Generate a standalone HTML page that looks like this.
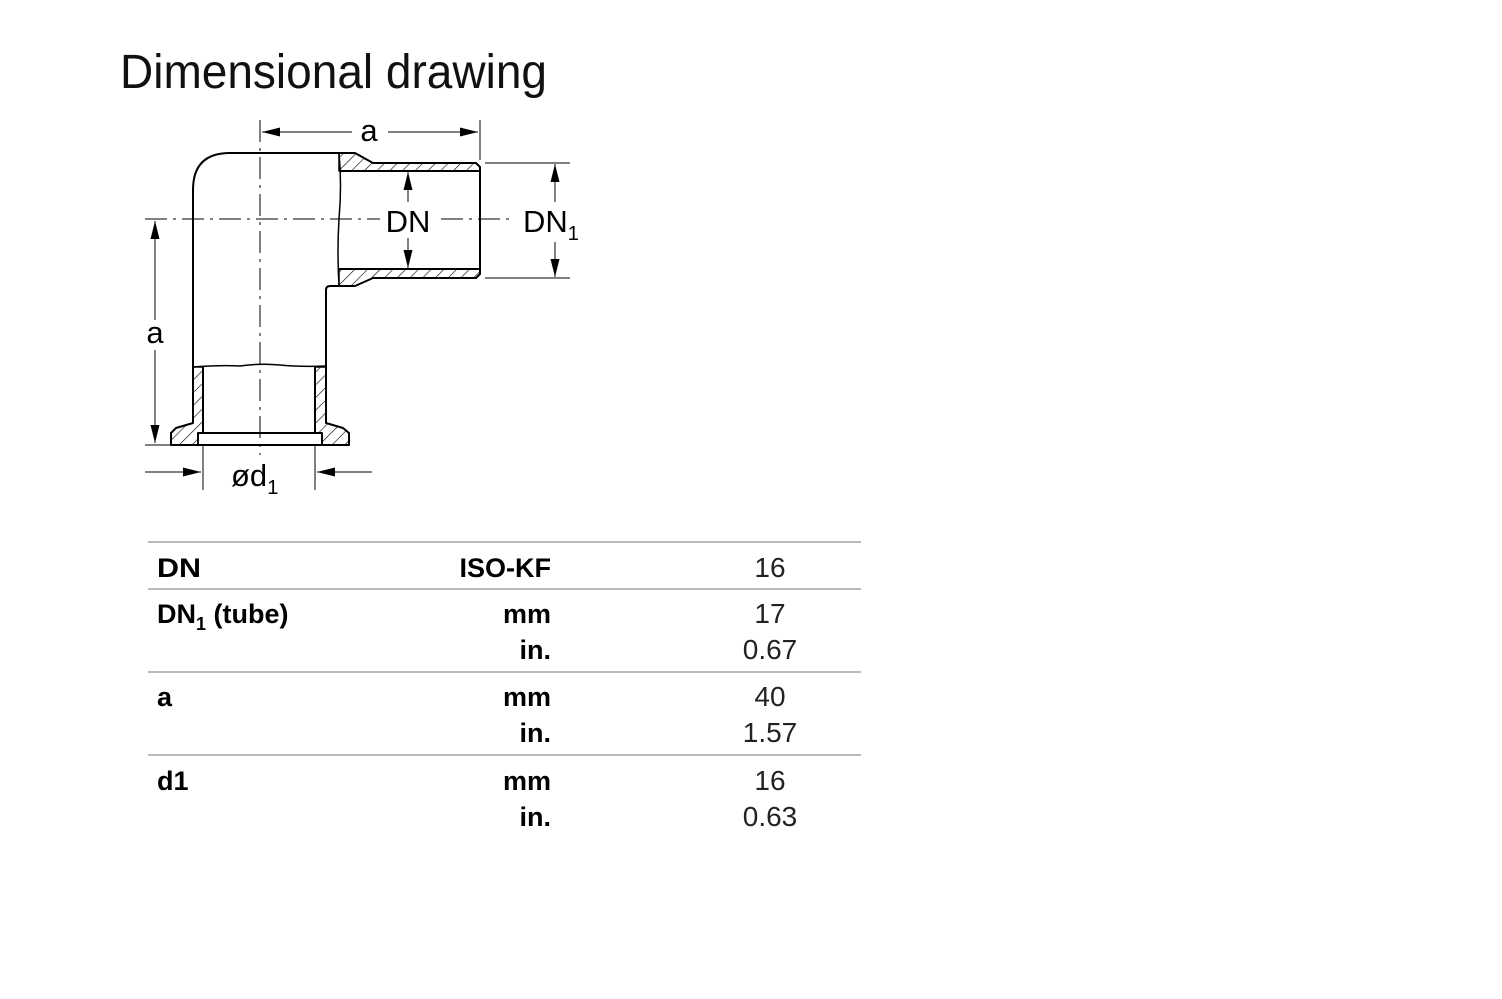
<!DOCTYPE html>
<html><head><meta charset="utf-8"><style>html,body{margin:0;padding:0;background:#fff}svg{display:block}</style></head>
<body>
<svg width="1502" height="999" viewBox="0 0 1502 999" xmlns="http://www.w3.org/2000/svg" font-family="Liberation Sans, sans-serif">
<defs>
<pattern id="h" patternUnits="userSpaceOnUse" width="9" height="9" patternTransform="rotate(45)">
<line x1="0" y1="0" x2="0" y2="9" stroke="#000" stroke-width="1.2"/>
</pattern>
<marker id="ar" markerWidth="18" markerHeight="9" refX="18" refY="4.5" orient="auto" markerUnits="userSpaceOnUse">
<path d="M0,0 L18,4.5 L0,9 Z" fill="#000"/>
</marker>
</defs>
<text x="120" y="88" font-size="48" textLength="427" lengthAdjust="spacingAndGlyphs" fill="#111">Dimensional drawing</text>

<g fill="none" stroke="#000" stroke-width="2" stroke-linejoin="round">
<path d="M339,153 L355,153 L373,163 L476,163 L480,167 L480,171 L339,171 Z" fill="url(#h)" stroke-width="1.5"/>
<path d="M339,269 L480,269 L480,274 L476,278 L373,278 L355,286 L339,286 Z" fill="url(#h)" stroke-width="1.5"/>
<path d="M193,367 L203,367 L203,433 L198,433 L198,445 L171,445 L171,433 L176,428 L193,423 Z" fill="url(#h)" stroke-width="1.5"/>
<path d="M315,367 L326,367 L326,423 L343,428 L349,433 L349,445 L322,445 L322,433 L315,433 Z" fill="url(#h)" stroke-width="1.5"/>
<path d="M193,367 L193,190 Q193,153 230,153 L355,153 L373,163 L476,163 L480,167 L480,274 L476,278 L373,278 L355,286 L330,286 Q326,286 326,290 L326,423 L343,428 L349,433 L349,445 L171,445 L171,433 L176,428 L193,423 Z"/>
<path d="M339,171 L480,171 M339,269 L480,269"/>
<path d="M339,153 Q342,185 339,219 Q337,250 339,286" stroke-width="1.5"/>
<path d="M193,367 Q220,365 240,366 Q260,363 280,365 Q300,367 326,366" stroke-width="1.5"/>
<path d="M203,367 L203,433 M315,367 L315,433"/>
<rect x="198" y="433" width="124" height="12"/>
</g>
<g stroke="#000" stroke-width="1" stroke-dasharray="22,6,3,6">
<line x1="145" y1="219" x2="515" y2="219"/>
<line x1="260" y1="120" x2="260" y2="455"/>
</g>
<g stroke="#000" stroke-width="1" fill="none">
<line x1="480" y1="120" x2="480" y2="160"/>
<line x1="352" y1="132" x2="262" y2="132" marker-end="url(#ar)"/>
<line x1="388" y1="132" x2="478" y2="132" marker-end="url(#ar)"/>
<line x1="155" y1="320" x2="155" y2="221" marker-end="url(#ar)"/>
<line x1="155" y1="350" x2="155" y2="443" marker-end="url(#ar)"/>
<line x1="145" y1="445" x2="171" y2="445"/>
<line x1="203" y1="445" x2="203" y2="490"/>
<line x1="315" y1="445" x2="315" y2="490"/>
<line x1="145" y1="472" x2="201" y2="472" marker-end="url(#ar)"/>
<line x1="372" y1="472" x2="317" y2="472" marker-end="url(#ar)"/>
<line x1="408" y1="202" x2="408" y2="172" marker-end="url(#ar)"/>
<line x1="408" y1="238" x2="408" y2="268" marker-end="url(#ar)"/>
<line x1="485" y1="163" x2="570" y2="163"/>
<line x1="485" y1="278" x2="570" y2="278"/>
<line x1="555" y1="202" x2="555" y2="164" marker-end="url(#ar)"/>
<line x1="555" y1="242" x2="555" y2="277" marker-end="url(#ar)"/>
</g>
<rect x="380" y="203" width="56" height="32" fill="#fff"/>
<rect x="518" y="203" width="72" height="34" fill="#fff"/>
<g font-size="31" fill="#000">
<text x="369" y="141" text-anchor="middle">a</text>
<text x="155" y="343" text-anchor="middle">a</text>
<text x="408" y="232" text-anchor="middle">DN</text>
<text x="523" y="232">DN<tspan font-size="20" dy="8">1</tspan></text>
<text x="231" y="486">ød<tspan font-size="20" dy="8">1</tspan></text>
</g>
<g stroke="#bbb" stroke-width="2">
<line x1="148" y1="542" x2="861" y2="542"/>
<line x1="148" y1="589" x2="861" y2="589"/>
<line x1="148" y1="672" x2="861" y2="672"/>
<line x1="148" y1="755" x2="861" y2="755"/>
</g>
<g font-size="27" font-weight="bold" fill="#000">
<text x="157" y="577" textLength="44" lengthAdjust="spacingAndGlyphs">DN</text>
<text x="157" y="623">DN<tspan font-size="18" dy="7">1</tspan><tspan dy="-7"> (tube)</tspan></text>
<text x="157" y="706">a</text>
<text x="157" y="790">d1</text>
<text x="551" y="577" text-anchor="end">ISO-KF</text>
<text x="551" y="623" text-anchor="end">mm</text>
<text x="551" y="659" text-anchor="end">in.</text>
<text x="551" y="706" text-anchor="end">mm</text>
<text x="551" y="742" text-anchor="end">in.</text>
<text x="551" y="790" text-anchor="end">mm</text>
<text x="551" y="826" text-anchor="end">in.</text>
</g>
<g font-size="28" fill="#222" text-anchor="middle">
<text x="770" y="577">16</text>
<text x="770" y="623">17</text>
<text x="770" y="659">0.67</text>
<text x="770" y="706">40</text>
<text x="770" y="742">1.57</text>
<text x="770" y="790">16</text>
<text x="770" y="826">0.63</text>
</g>
</svg>
</body></html>
